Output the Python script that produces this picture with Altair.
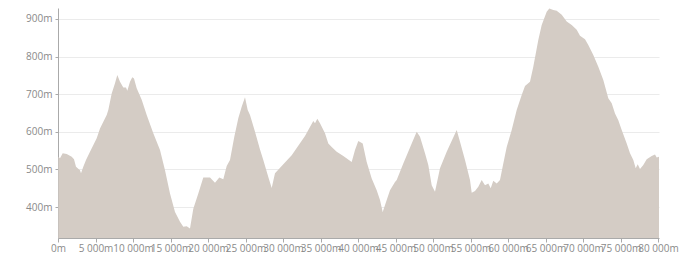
import altair as alt
import pandas as pd

distance_m = [40, 267, 627, 1160, 1827, 2133, 2400, 2933, 3067, 3373, 3733, 4267, 5160, 5600,
              6493, 6707, 7160, 7600, 7907, 8267, 8707, 9067, 9240, 9600, 9907, 10133, 10493,
              11160, 11827, 12707, 13600, 14267, 14933, 15600, 16267, 16707, 17160, 17600,
              18040, 18707, 19373, 20267, 20933, 21507, 22040, 22493, 22933, 23507, 24040,
              24493, 24933, 25293, 25600, 26267, 26933, 27373, 28040, 28493, 28933, 29827,
              31160, 32933, 34040, 34267, 34573, 34933, 35600, 36040, 36493, 37160, 38040,
              39160, 39600, 40040, 40627, 41160, 41827, 42493, 42933, 43293, 43827, 44267,
              44933, 45160, 46040, 47160, 47827, 48267, 48933, 49373, 49827, 50267, 50933,
              51827, 53160, 53600, 54267, 54933, 55160, 55600, 56040, 56493, 56933, 57373,
              57693, 58040, 58493, 58933, 59373, 59827, 60493, 61160, 61827, 62267, 62933,
              63373, 64040, 64493, 65160, 65507, 66040, 66493, 67160, 67827, 68493, 69160,
              69600, 70267, 70707, 71373, 72040, 72707, 73373, 73827, 74267, 74707, 75160,
              75827, 76267, 76707, 77027, 77293, 77600, 78040, 78493, 79160, 79600, 79827,
              80133]
elevation_m = [534, 530, 543, 541, 534, 527, 507, 498, 490, 507, 525, 547, 583, 609,
               645, 658, 702, 729, 751, 733, 718, 718, 709, 733, 745, 742, 716,
               685, 645, 596, 552, 498, 436, 387, 361, 348, 349, 343,
               396, 436, 479, 479, 465, 479, 474, 509, 525, 587, 636,
               667, 692, 658, 645, 600, 553, 525, 480, 451, 490, 509,
               538, 589, 629, 623, 635, 623, 596, 569, 560, 547, 536,
               520, 552, 576, 569, 520, 476, 445, 419, 387, 419, 445,
               467, 472, 516, 569, 600, 587, 543, 512, 458, 441, 503,
               547, 605, 574, 525, 472, 438, 443, 454, 472, 458, 463,
               450, 470, 463, 472, 516, 560, 605, 658, 698, 722, 733,
               773, 844, 884, 919, 928, 924, 922, 911, 893, 884, 871,
               855, 846, 831, 804, 773, 738, 689, 676, 649, 631, 605,
               569, 543, 525, 503, 514, 501, 512, 527, 536, 540, 532,
               534]
x_ticks = list(range(0, 80001, 5000))
y_ticks = [400, 500, 600, 700, 800, 900]

df = pd.DataFrame({"d": distance_m, "e": elevation_m})

font = "Open Sans"
lab_col = "#8a8a8a"

chart = alt.Chart(df).mark_area(color="#d4ccc5", opacity=1, clip=True).encode(
    x=alt.X("d:Q",
            scale=alt.Scale(domain=[0, 80133], nice=False, zero=False),
            axis=alt.Axis(values=x_ticks, title=None, grid=False,
                          labelExpr="replace(format(datum.value, ','), ',', ' ') + 'm'",
                          labelOverlap=False, labelFlush=False, labelBound=False,
                          labelFont=font, labelFontSize=10, labelColor=lab_col,
                          tickColor="#aaaaaa", tickSize=4, domainColor="#aaaaaa",
                          labelPadding=1)),
    y=alt.Y("e:Q",
            scale=alt.Scale(domain=[318, 929], nice=False, zero=False),
            axis=alt.Axis(values=y_ticks, title=None, grid=True, gridColor="#ebebeb",
                          labelExpr="datum.value + 'm'",
                          labelFont=font, labelFontSize=10, labelColor=lab_col,
                          tickColor="#aaaaaa", tickSize=3, domainColor="#aaaaaa",
                          labelPadding=3)),
).properties(
    width=601, height=230,
    autosize=alt.AutoSizeParams(type="none"),
    padding={"left": 50, "top": 0, "right": 20, "bottom": 16},
).configure_view(stroke=None)

chart.save("out.html", embed_options={"renderer": "svg", "actions": False})
